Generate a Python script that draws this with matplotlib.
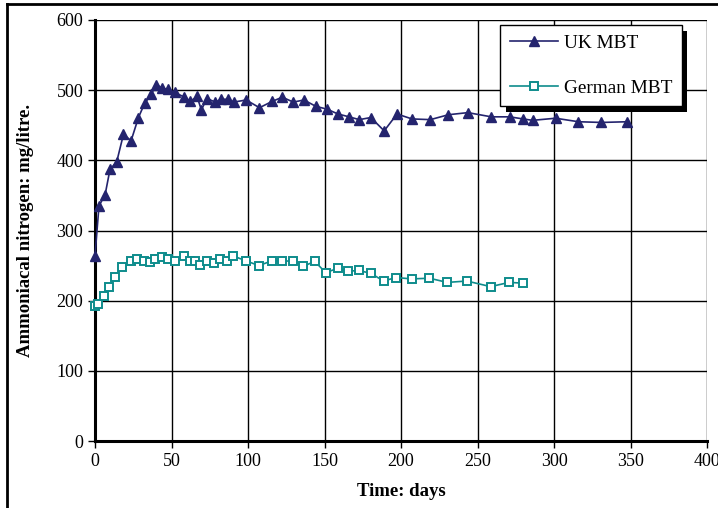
import matplotlib
matplotlib.use("Agg")
import matplotlib.pyplot as plt
from matplotlib.lines import Line2D
import matplotlib.patheffects as pe

plt.rcParams['font.family'] = ['Liberation Serif', 'DejaVu Serif']

uk_days = [0, 2.6, 6.6, 9.8, 14.2, 18.6, 23.6, 28.4, 32.4, 36.7, 40, 43.7, 47.7, 52,
           58.4, 62.3, 66.7, 69.5, 73.2, 78.7, 82.6, 87, 90.7, 98.8, 107.5, 115.8,
           122.4, 129.6, 136.6, 144.3, 151.5, 158.9, 166.1, 172.7, 180.3, 189,
           197.4, 207.2, 219.2, 231, 243.7, 259, 271, 279.8, 286, 301, 316, 331, 348]
uk_vals = [264, 335, 351, 387, 398, 437, 428, 461, 481, 494, 508, 503, 501, 497,
           490, 484, 491, 472, 488, 483, 487, 487, 483, 486, 475, 484,
           490, 483, 486, 477, 473, 466, 462, 458, 461, 442,
           466, 459, 458, 465, 468, 462, 462, 459, 457, 460, 455, 454, 455]

de_days = [0, 2.2, 6.1, 9.4, 13.1, 17.9, 23.4, 27.7, 31.7, 36.1, 39.3, 43.7, 47.7, 52,
           57.9, 61.8, 65.6, 68.9, 73.2, 78, 82, 86.4, 90, 98.4, 107.1, 115.9,
           122.4, 129.6, 136.2, 143.6, 150.8, 158.5, 165.5, 172.3, 180.3, 188.6,
           196.7, 207, 218.6, 230.2, 243, 258.6, 270.6, 279.8]
de_vals = [192, 195, 207, 219, 234, 248, 256, 259, 256, 255, 260, 262, 260, 257,
           264, 257, 256, 251, 257, 253, 260, 257, 264, 257, 250, 257,
           256, 257, 249, 256, 240, 246, 242, 243, 239, 228,
           233, 231, 232, 226, 228, 220, 226, 225]

x_ticks = [0, 50, 100, 150, 200, 250, 300, 350, 400]
y_ticks = [0, 100, 200, 300, 400, 500, 600]

fig = plt.figure(figsize=(7.18, 5.08), dpi=100)
ax = fig.add_axes([95/718, 1-441/508, (707-95)/718, (441-20)/508])

uk_color = '#24246E'
de_color = '#0E8C8C'

ax.plot(uk_days, uk_vals, color=uk_color, lw=1.2, marker='^', ms=7,
        mfc=uk_color, mec=uk_color, label='UK MBT', zorder=3, clip_on=False)
ax.plot(de_days, de_vals, color=de_color, lw=1.2, marker='s', ms=6,
        mfc='white', mec=de_color, mew=1.4, label='German MBT', zorder=3, clip_on=False)

ax.set_xlim(0, 400)
ax.set_ylim(0, 600)
ax.set_xticks(x_ticks)
ax.set_yticks(y_ticks)
ax.grid(True, color='black', lw=1.0)
ax.set_axisbelow(True)
for s in ['top', 'right']:
    ax.spines[s].set_visible(False)
for s in ['left', 'bottom']:
    ax.spines[s].set_linewidth(2.2)
ax.tick_params(axis='both', direction='out', length=5, width=1, labelsize=13,
               colors='black')
ax.tick_params(axis='x', pad=4)
ax.set_xlabel('Time: days', fontsize=13.5, fontweight='bold', labelpad=9)
ax.set_ylabel('Ammoniacal nitrogen: mg/litre.', fontsize=13.5, fontweight='bold', labelpad=16)

leg = ax.legend(loc='upper left', bbox_to_anchor=((500-95)/612, 1-(25-20)/421),
                fontsize=13.9, frameon=True, fancybox=False, shadow=False,
                handlelength=2.5, borderpad=0.5, labelspacing=1.4,
                borderaxespad=0, handletextpad=0.3)
leg.set_zorder(5)
frame = leg.get_frame()
frame.set_edgecolor('black')
frame.set_linewidth(1.0)
frame.set_facecolor('white')
frame.set_alpha(1)
frame.set_path_effects([pe.SimplePatchShadow(offset=(4, -4), shadow_rgbFace='black', alpha=1.0),
                        pe.Normal()])

# figure border (top and left)
fig.add_artist(Line2D([7/718, 7/718], [0, 1-4/508], transform=fig.transFigure,
                      color='black', lw=2))
fig.add_artist(Line2D([7/718, 1], [1-4/508, 1-4/508], transform=fig.transFigure,
                      color='black', lw=2))

fig.savefig('out.png', dpi=100)
